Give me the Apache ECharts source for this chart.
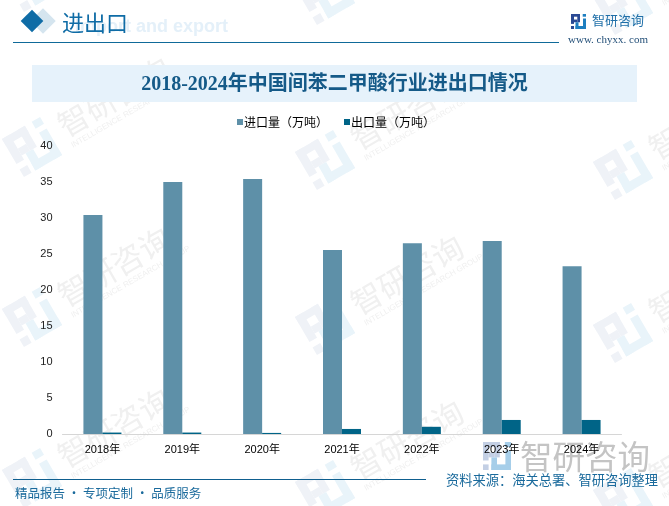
<!DOCTYPE html>
<html>
<head>
<meta charset="utf-8">
<style>
  html, body { margin: 0; padding: 0; background: #fff; }
  #chart { width: 669px; height: 506px; }
</style>
<script src="https://cdn.jsdelivr.net/npm/echarts@6/dist/echarts.min.js"></script>
</head>
<body>
<div id="chart"></div>
<script>
'use strict';
const years = ['2018年', '2019年', '2020年', '2021年', '2022年', '2023年', '2024年'];
const importVals = [30.4, 35.0, 35.4, 25.55, 26.5, 26.8, 23.3];
const exportVals = [0.2, 0.2, 0.15, 0.7, 1.0, 1.95, 1.95];
const yTicks = [0, 5, 10, 15, 20, 25, 30, 35, 40];

const CJK = '"Noto Sans CJK SC", "Noto Sans", sans-serif';
const SERIF = '"Liberation Serif", "Noto Sans CJK SC", serif';
const LATIN = '"Liberation Sans", "Noto Sans CJK SC", sans-serif';
const BLUE = '#0f6ca6';

// 公司 logo：左右两组方块拼成
const LOGO_LEFT = [[0, 0, 0.6, 0.18], [0, 0, 0.2, 0.66], [0.42, 0, 0.18, 0.55], [0.2, 0.37, 0.22, 0.18], [0, 0.8, 0.2, 0.2]];
const LOGO_RIGHT = [[0.78, 0, 0.22, 0.18], [0.8, 0.3, 0.2, 0.7], [0.3, 0.8, 0.7, 0.2], [0.3, 0.55, 0.2, 0.45]];
function logo(x, y, s, colorL, colorR, z) {
  const toRect = (color) => (r) => ({
    type: 'rect', z,
    shape: { x: r[0] * s, y: r[1] * s, width: r[2] * s, height: r[3] * s },
    style: { fill: color }
  });
  return {
    type: 'group', x, y, silent: true,
    children: LOGO_LEFT.map(toRect(colorL)).concat(LOGO_RIGHT.map(toRect(colorR)))
  };
}

// 斜着的水印，x/y 是 logo 中心
function mark(x, y) {
  return {
    type: 'group', x, y, rotation: 30 * Math.PI / 180, silent: true,
    children: [
      logo(-22, -22, 44, '#eff2f7', '#e9f4fa', 0),
      { type: 'text', x: 34, y: -18, z: 0, style: { text: '智研咨询', font: '31px ' + CJK, fill: '#f0f0f0' } },
      { type: 'text', x: 35, y: 15, z: 0, style: { text: 'INTELLIGENCE RESEARCH GROUP', font: '8px "Liberation Sans"', fill: '#f0f0f0' } }
    ]
  };
}

const marks = [
  [32, -18], [325, -5], [623, 5],
  [32, 147], [325, 160], [623, 170],
  [32, 317], [325, 325], [623, 333],
  [32, 478], [325, 490], [623, 498]
].map((p) => mark(p[0], p[1]));

const chart = echarts.init(document.getElementById('chart'));
chart.setOption({
  backgroundColor: '#fff',
  animation: false,
  legend: {
    top: 111, left: 232, itemWidth: 6, itemHeight: 6, itemGap: 16, icon: 'rect',
    textStyle: { color: '#000', fontSize: 12, fontFamily: CJK, padding: [0, 0, 0, -4] },
    data: ['进口量（万吨）', '出口量（万吨）']
  },
  grid: { left: 62.5, right: 47.5, top: 146, bottom: 72 },
  xAxis: {
    type: 'category', data: years,
    axisLine: { lineStyle: { color: '#d6d6d6', width: 1 } },
    axisTick: { show: false },
    axisLabel: { color: '#000', fontSize: 11, margin: 10, fontFamily: LATIN }
  },
  yAxis: {
    type: 'value', min: yTicks[0], max: yTicks[yTicks.length - 1], interval: 5,
    axisLine: { show: false }, axisTick: { show: false }, splitLine: { show: false },
    axisLabel: { color: '#222', fontSize: 11, margin: 10, padding: [2, 0, 0, 0], fontFamily: LATIN }
  },
  series: [
    { name: '进口量（万吨）', type: 'bar', data: importVals, barWidth: 19, barGap: 0, itemStyle: { color: '#5e90a8' }, z: 3 },
    { name: '出口量（万吨）', type: 'bar', data: exportVals, barWidth: 19, itemStyle: { color: '#006487' }, z: 3 }
  ],
  graphic: { elements: marks.concat([
    // 顶部栏
    { type: 'rect', rotation: Math.PI / 4, x: 43, y: 21, shape: { x: -9, y: -9, width: 18, height: 18 }, style: { fill: '#d5e5ef' }, z: 1 },
    { type: 'rect', rotation: Math.PI / 4, x: 32, y: 21, shape: { x: -8, y: -8, width: 16, height: 16 }, style: { fill: BLUE }, z: 2 },
    { type: 'text', x: 228, y: 18, style: { text: 'Import and export', font: '700 18px "Liberation Sans"', fill: '#e4f0f9', textAlign: 'right' }, z: 1 },
    { type: 'text', x: 62, y: 14, style: { text: '进出口', font: '22px ' + SERIF, fill: BLUE }, z: 2 },
    { type: 'rect', shape: { x: 13, y: 42, width: 546, height: 1 }, style: { fill: '#0f6a99' }, z: 2 },
    logo(571, 14, 15, '#2b4a94', '#1f7fc0', 2),
    { type: 'text', x: 592, y: 14, style: { text: '智研咨询', font: '13px ' + CJK, fill: '#1f6fa8' }, z: 2 },
    { type: 'text', x: 568, y: 35, style: { text: 'www. chyxx. com', font: '11px ' + SERIF, fill: '#234f78' }, z: 2 },
    // 标题条
    { type: 'rect', shape: { x: 32, y: 65, width: 605, height: 37 }, style: { fill: '#e6f2fb' }, z: 1 },
    { type: 'text', x: 334.5, y: 85, style: { text: '2018-2024年中国间苯二甲酸行业进出口情况', font: '700 20px ' + SERIF, fill: '#155a88', textAlign: 'center', textVerticalAlign: 'middle' }, z: 2 },
    // 底部栏
    { type: 'rect', shape: { x: 13, y: 479, width: 413, height: 1 }, style: { fill: '#0f5f8f' }, z: 2 },
    { type: 'text', x: 15, y: 487, style: { text: '精品报告 · 专项定制 · 品质服务', font: '12.5px ' + CJK, fill: '#1a6a9c' }, z: 2 },
    // 右下角大水印，压在坐标轴文字下面
    logo(483, 442, 28, '#c3cfe4', '#a6cee9', 0),
    { type: 'text', x: 520, y: 440, style: { text: '智研咨询', font: '32.5px ' + CJK, fill: '#c4c4c4' }, z: 0 },
    { type: 'text', x: 446, y: 473, style: { text: '资料来源：海关总署、智研咨询整理', font: '13.25px ' + CJK, fill: '#1a6a9c' }, z: 2 }
  ]) }
});
</script>
</body>
</html>
